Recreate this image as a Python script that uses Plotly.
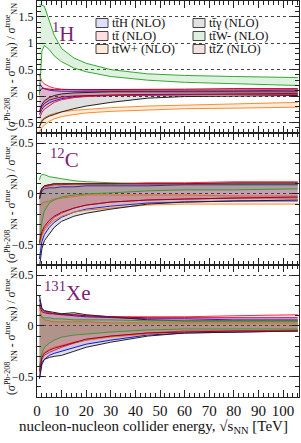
import plotly.graph_objects as go
from plotly.subplots import make_subplots

# ---------------- data ----------------
energy = [1, 1.5, 2, 3, 5, 7, 10, 15, 20, 30, 45, 60, 80, 106]

processes = ["ttH", "tt", "ttWp", "tta", "ttWm", "ttZ"]
labels = ["tt\u0304H (NLO)", "tt\u0304 (NLO)", "tt\u0304W+ (NLO)",
          "tt\u0304\u03b3 (NLO)", "tt\u0304W- (NLO)", "tt\u0304Z (NLO)"]

# Panel 1H
H_ttH_hi = [0.25, 0.20, 0.17, 0.14, 0.11, 0.10, 0.09, 0.09, 0.09, 0.09, 0.10, 0.10, 0.10, 0.11]
H_ttH_lo = [-0.35, -0.30, -0.25, -0.19, -0.13, -0.09, -0.05, -0.02, 0.00, 0.01, 0.02, 0.02, 0.03, 0.03]
H_tt_hi = [0.40, 0.33, 0.28, 0.23, 0.18, 0.15, 0.13, 0.12, 0.11, 0.11, 0.11, 0.11, 0.12, 0.12]
H_tt_lo = [-0.42, -0.36, -0.31, -0.25, -0.18, -0.12, -0.07, -0.03, -0.01, 0.01, 0.02, 0.03, 0.03, 0.03]
H_ttWp_hi = [-0.58, -0.50, -0.45, -0.41, -0.36, -0.33, -0.30, -0.27, -0.25, -0.22, -0.19, -0.17, -0.15, -0.12]
H_ttWp_lo = [-0.68, -0.64, -0.60, -0.55, -0.48, -0.43, -0.39, -0.35, -0.32, -0.29, -0.26, -0.24, -0.23, -0.21]
H_tta_hi = [-0.30, -0.22, -0.16, -0.09, -0.03, 0.01, 0.04, 0.06, 0.07, 0.08, 0.08, 0.08, 0.08, 0.08]
H_tta_lo = [-0.58, -0.52, -0.48, -0.43, -0.38, -0.35, -0.30, -0.24, -0.19, -0.12, -0.04, -0.01, 0.00, 0.01]
H_ttWm_hi = [1.73, 1.73, 1.72, 1.70, 1.42, 1.15, 0.90, 0.72, 0.62, 0.50, 0.42, 0.39, 0.37, 0.35]
H_ttWm_lo = [0.02, 0.45, 0.85, 0.96, 0.88, 0.76, 0.65, 0.53, 0.46, 0.37, 0.30, 0.26, 0.23, 0.20]
H_ttZ_hi = [0.10, 0.12, 0.14, 0.14, 0.13, 0.12, 0.12, 0.12, 0.12, 0.13, 0.13, 0.13, 0.14, 0.14]
H_ttZ_lo = [-0.30, -0.25, -0.20, -0.14, -0.08, -0.05, -0.02, 0.00, 0.01, 0.02, 0.03, 0.04, 0.04, 0.05]

# Panel 12C
C_ttH_hi = [-0.05, 0.00, 0.03, 0.05, 0.06, 0.06, 0.07, 0.07, 0.08, 0.08, 0.08, 0.09, 0.09, 0.09]
C_ttH_lo = [-0.64, -0.55, -0.47, -0.40, -0.33, -0.28, -0.23, -0.18, -0.15, -0.12, -0.09, -0.08, -0.07, -0.07]
C_tt_hi = [0.00, 0.03, 0.05, 0.07, 0.08, 0.09, 0.09, 0.10, 0.10, 0.10, 0.11, 0.11, 0.12, 0.12]
C_tt_lo = [-0.50, -0.45, -0.40, -0.34, -0.28, -0.23, -0.19, -0.14, -0.11, -0.08, -0.06, -0.05, -0.04, -0.04]
C_ttWp_hi = [-0.12, -0.10, -0.09, -0.08, -0.07, -0.05, -0.04, -0.02, -0.01, -0.01, -0.01, -0.01, -0.02, -0.02]
C_ttWp_lo = [-0.50, -0.45, -0.41, -0.36, -0.30, -0.26, -0.22, -0.18, -0.16, -0.14, -0.11, -0.10, -0.10, -0.10]
C_tta_hi = [-0.05, 0.02, 0.05, 0.08, 0.09, 0.10, 0.10, 0.10, 0.10, 0.10, 0.10, 0.10, 0.10, 0.10]
C_tta_lo = [-0.72, -0.62, -0.54, -0.46, -0.39, -0.33, -0.27, -0.22, -0.19, -0.15, -0.10, -0.08, -0.07, -0.06]
C_ttWm_hi = [0.14, 0.18, 0.19, 0.19, 0.17, 0.16, 0.15, 0.13, 0.12, 0.11, 0.10, 0.10, 0.10, 0.10]
C_ttWm_lo = [-0.50, -0.36, -0.27, -0.17, -0.09, -0.06, -0.03, -0.01, 0.00, 0.01, 0.03, 0.04, 0.04, 0.05]
C_ttZ_hi = [-0.05, 0.03, 0.06, 0.08, 0.09, 0.10, 0.10, 0.10, 0.10, 0.10, 0.10, 0.10, 0.11, 0.11]
C_ttZ_lo = [-0.48, -0.42, -0.37, -0.32, -0.26, -0.22, -0.18, -0.14, -0.11, -0.08, -0.06, -0.05, -0.04, -0.03]

# Panel 131Xe
X_ttH_hi = [0.26, 0.20, 0.17, 0.15, 0.13, 0.12, 0.11, 0.10, 0.09, 0.08, 0.07, 0.07, 0.06, 0.06]
X_ttH_lo = [-0.52, -0.42, -0.38, -0.33, -0.29, -0.27, -0.25, -0.21, -0.18, -0.14, -0.09, -0.07, -0.06, -0.05]
X_tt_hi = [0.22, 0.18, 0.16, 0.14, 0.13, 0.12, 0.12, 0.11, 0.10, 0.09, 0.09, 0.09, 0.10, 0.11]
X_tt_lo = [-0.46, -0.38, -0.33, -0.29, -0.26, -0.24, -0.21, -0.17, -0.14, -0.10, -0.07, -0.05, -0.05, -0.04]
X_ttWp_hi = [0.18, 0.12, 0.08, 0.06, 0.05, 0.04, 0.04, 0.04, 0.04, 0.03, 0.03, 0.03, 0.03, 0.03]
X_ttWp_lo = [-0.40, -0.33, -0.29, -0.26, -0.23, -0.21, -0.19, -0.16, -0.14, -0.11, -0.08, -0.06, -0.05, -0.05]
X_tta_hi = [0.30, 0.22, 0.17, 0.15, 0.14, 0.13, 0.12, 0.13, 0.11, 0.09, 0.06, 0.05, 0.05, 0.05]
X_tta_lo = [-0.52, -0.42, -0.36, -0.33, -0.31, -0.30, -0.29, -0.25, -0.21, -0.16, -0.10, -0.07, -0.06, -0.05]
X_ttWm_hi = [0.12, 0.10, 0.09, 0.08, 0.08, 0.07, 0.07, 0.06, 0.06, 0.06, 0.05, 0.05, 0.05, 0.05]
X_ttWm_lo = [-0.40, -0.32, -0.27, -0.21, -0.17, -0.14, -0.11, -0.09, -0.08, -0.06, -0.04, -0.03, -0.03, -0.03]
X_ttZ_hi = [0.20, 0.16, 0.14, 0.13, 0.12, 0.12, 0.11, 0.11, 0.10, 0.09, 0.08, 0.08, 0.08, 0.08]
X_ttZ_lo = [-0.44, -0.36, -0.31, -0.27, -0.24, -0.22, -0.20, -0.16, -0.13, -0.10, -0.07, -0.06, -0.05, -0.05]

panels = [
    {"ttH": (H_ttH_hi, H_ttH_lo), "tt": (H_tt_hi, H_tt_lo), "ttWp": (H_ttWp_hi, H_ttWp_lo),
     "tta": (H_tta_hi, H_tta_lo), "ttWm": (H_ttWm_hi, H_ttWm_lo), "ttZ": (H_ttZ_hi, H_ttZ_lo)},
    {"ttH": (C_ttH_hi, C_ttH_lo), "tt": (C_tt_hi, C_tt_lo), "ttWp": (C_ttWp_hi, C_ttWp_lo),
     "tta": (C_tta_hi, C_tta_lo), "ttWm": (C_ttWm_hi, C_ttWm_lo), "ttZ": (C_ttZ_hi, C_ttZ_lo)},
    {"ttH": (X_ttH_hi, X_ttH_lo), "tt": (X_tt_hi, X_tt_lo), "ttWp": (X_ttWp_hi, X_ttWp_lo),
     "tta": (X_tta_hi, X_tta_lo), "ttWm": (X_ttWm_hi, X_ttWm_lo), "ttZ": (X_ttZ_hi, X_ttZ_lo)},
]
nuclei = ["<sup>1</sup>H", "<sup>12</sup>C", "<sup>131</sup>Xe"]
y_ranges = [[-0.7, 1.8], [-0.7, 0.6], [-0.7, 0.6]]

# ---------------- style ----------------
line_col = {"ttH": "#1a1aff", "tt": "#ff2a4a", "ttWp": "#ff8a2a",
            "tta": "#222222", "ttWm": "#33aa33", "ttZ": "#a0002a"}
fill_col = {"ttH": "rgba(40,40,255,0.13)", "tt": "rgba(255,40,80,0.14)",
            "ttWp": "rgba(255,130,40,0.15)", "tta": "rgba(0,0,0,0.12)",
            "ttWm": "rgba(30,160,30,0.14)", "ttZ": "rgba(150,20,20,0.11)"}
swatch = {"ttH": "#dfe0ff", "tt": "#ffdde3", "ttWp": "#ffe9da",
          "tta": "#e2e2e2", "ttWm": "#def0de", "ttZ": "#f2e3e3"}
SERIF = "Liberation Serif"
PURPLE = "#7a1f74"

W, H = 301, 443
ML, MR, MT, MB = 37, 2, 1, 46
PW, PH = W - ML - MR, H - MT - MB


def xp(px):
    return (px - ML) / PW


def yp(py):
    return (H - MB - py) / PH


fig = make_subplots(rows=3, cols=1, shared_xaxes=True, vertical_spacing=0)

draw_order = ["ttH", "tt", "ttWp", "tta", "ttWm", "ttZ"]
for r, pdata in enumerate(panels, start=1):
    for p in draw_order:
        hi, lo = pdata[p]
        fig.add_trace(go.Scatter(x=energy, y=hi, mode="lines",
                                 line=dict(color=line_col[p], width=1),
                                 showlegend=False, hoverinfo="skip"), row=r, col=1)
        fig.add_trace(go.Scatter(x=energy, y=lo, mode="lines", fill="tonexty",
                                 fillcolor=fill_col[p],
                                 line=dict(color=line_col[p], width=1),
                                 showlegend=False, hoverinfo="skip"), row=r, col=1)

for r in range(1, 4):
    fig.update_xaxes(range=[0, 106.5], dtick=10, ticks="inside", ticklen=7, tickwidth=1,
                     tickcolor="#222", showline=True, linecolor="#222", linewidth=1,
                     mirror="allticks", showgrid=False, zeroline=False,
                     minor=dict(dtick=2, ticks="inside", ticklen=4, tickcolor="#222", showgrid=False),
                     showticklabels=(r == 3),
                     tickfont=dict(family=SERIF, size=15, color="#111"),
                     row=r, col=1)
    fig.update_yaxes(range=y_ranges[r - 1], dtick=0.5, ticks="inside", ticklen=7, tickwidth=1,
                     tickcolor="#222", showline=True, linecolor="#222", linewidth=1,
                     mirror="allticks", showgrid=True, gridcolor="#444", gridwidth=1,
                     griddash="dot", zeroline=False,
                     minor=dict(dtick=0.1, ticks="inside", ticklen=4, tickcolor="#222", showgrid=False),
                     tickfont=dict(family=SERIF, size=12, color="#111"),
                     row=r, col=1)

annotations = []
shapes = []
ytitle = ("(σ<sup>Pb-208</sup><sub>NN</sub> - σ<sup>true</sup><sub>NN</sub>) / "
          "σ<sup>true</sup><sub>NN</sub>")
panel_tops = [MT, MT + PH / 3, MT + 2 * PH / 3]
for i in range(3):
    annotations.append(dict(text=ytitle, xref="paper", yref="paper", textangle=-90,
                            x=xp(11), y=yp(panel_tops[i] + PH / 6), xanchor="center",
                            yanchor="middle", showarrow=False,
                            font=dict(family=SERIF, size=11.5, color="#111")))
nuc_pos = [(50, 33), (48, 158), (42, 291)]
for i in range(3):
    annotations.append(dict(text=nuclei[i], xref="paper", yref="paper",
                            x=xp(nuc_pos[i][0]), y=yp(nuc_pos[i][1]), xanchor="left",
                            yanchor="middle", showarrow=False,
                            font=dict(family=SERIF, size=21, color=PURPLE)))

# legend (2 columns x 3 rows)
leg_cols = [96, 193]
leg_rows = [23, 36, 49]
for k, p in enumerate(processes):
    cx = leg_cols[k // 3]
    cy = leg_rows[k % 3]
    shapes.append(dict(type="rect", xref="paper", yref="paper",
                       x0=xp(cx), x1=xp(cx + 12), y0=yp(cy + 4.5), y1=yp(cy - 4.5),
                       fillcolor=swatch[p], line=dict(color="#444", width=1)))
    annotations.append(dict(text=labels[k], xref="paper", yref="paper",
                            x=xp(cx + 14), y=yp(cy), xanchor="left", yanchor="middle",
                            showarrow=False, font=dict(family=SERIF, size=12.5, color="#111")))

annotations.append(dict(text="nucleon-nucleon collider energy, √s<sub>NN</sub> [TeV]",
                        xref="paper", yref="paper", x=xp(153), y=yp(427),
                        xanchor="center", yanchor="middle", showarrow=False,
                        font=dict(family=SERIF, size=15, color="#111")))

fig.update_layout(width=W, height=H, margin=dict(l=ML, r=MR, t=MT, b=MB),
                  paper_bgcolor="white", plot_bgcolor="white",
                  showlegend=False, annotations=annotations, shapes=shapes,
                  font=dict(family=SERIF))

fig.write_html("out.html", config={"displayModeBar": False},
               post_script="document.body.style.margin='0';document.body.style.padding='0';")
